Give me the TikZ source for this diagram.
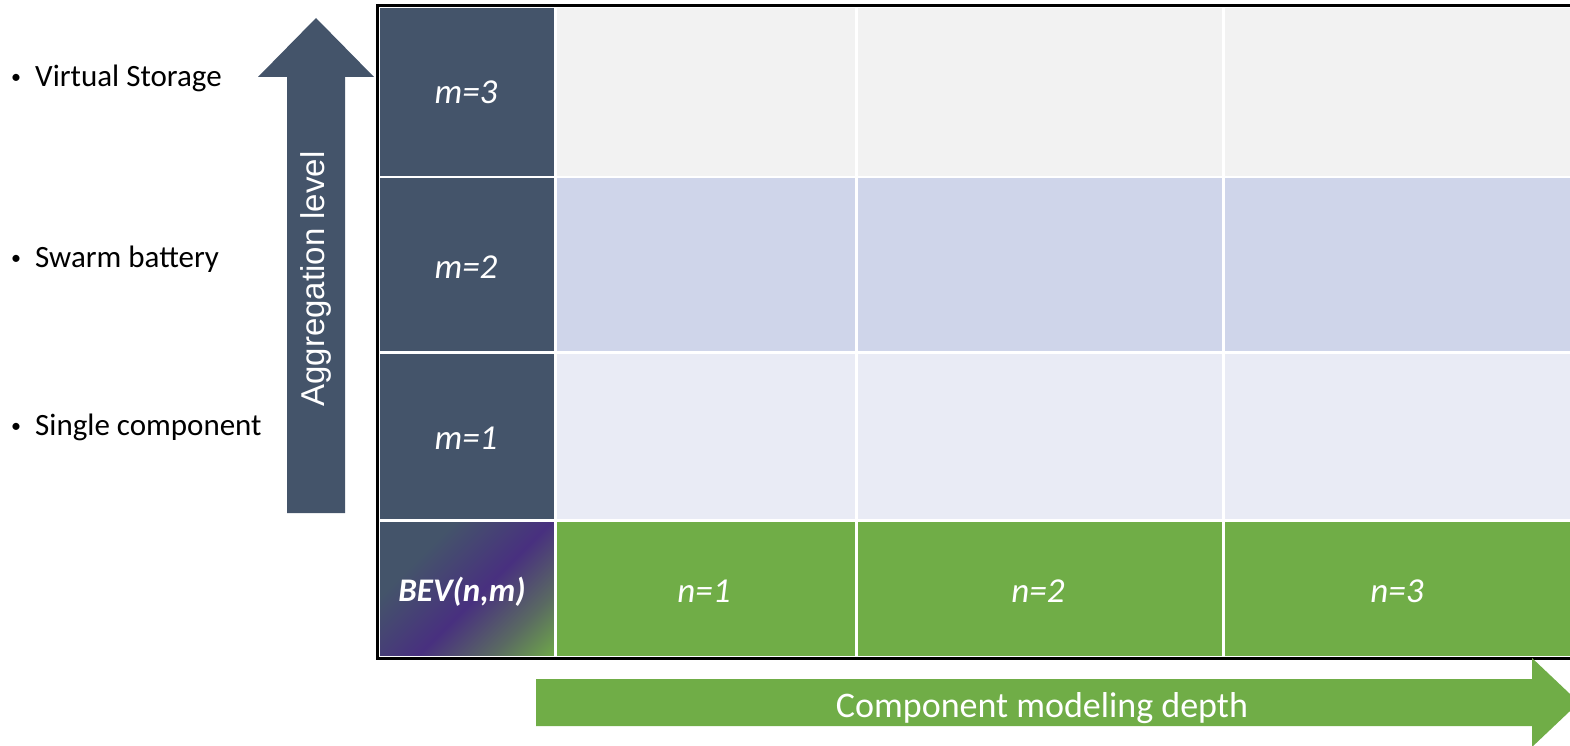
\documentclass[tikz,border=0pt]{standalone}
\usepackage{fontspec}
\setmainfont{Carlito}
\newfontfamily\arialfont{Liberation Sans}
\definecolor{slate}{HTML}{44546A}
\definecolor{leafgreen}{HTML}{70AD47}
\definecolor{rowthree}{HTML}{F2F2F2}
\definecolor{rowtwo}{HTML}{CFD5EA}
\definecolor{rowone}{HTML}{E9EBF5}
\definecolor{bevpurple}{HTML}{48307F}
\definecolor{bevmix}{HTML}{5A6A62}
\pgfdeclarehorizontalshading{bevshade}{100bp}{color(0bp)=(slate); color(32bp)=(slate); color(54bp)=(bevpurple); color(71bp)=(bevmix); color(86bp)=(leafgreen); color(100bp)=(leafgreen)}
\tikzset{
  cell/.style={rectangle, draw=white, line width=2.5pt, inner sep=0pt, anchor=north west},
  celltext/.style={anchor=base, text=white, inner sep=0pt, font=\fontsize{35}{40}\selectfont\itshape},
  sidelabel/.style={anchor=base west, inner sep=0pt, font=\fontsize{31}{36}\selectfont},
  frame/.style={line width=3pt, black},
}
\newcommand{\bulleted}[1]{\makebox[0pt][r]{\raisebox{3pt}{\fontsize{20}{22}\selectfont\textbullet}\hspace{14pt}}#1}
\begin{document}
\begin{tikzpicture}[x=1pt, y=-1pt]
\useasboundingbox (0,0) rectangle (1570,746);

% table cells: first column
\node[cell, fill=slate, minimum width=177pt, minimum height=170pt] (m3) at (377,6) {};
\node[cell, fill=slate, minimum width=177pt, minimum height=175pt] (m2) at (377,176) {};
\node[cell, fill=slate, minimum width=177pt, minimum height=168pt] (m1) at (377,351) {};
\node[cell, shading=bevshade, shading angle=-45, minimum width=177pt, minimum height=137pt] (bev) at (377,519) {};

% row m=3
\node[cell, fill=rowthree, minimum width=301pt, minimum height=170pt] (a3) at (554,6) {};
\node[cell, fill=rowthree, minimum width=367pt, minimum height=170pt] (b3) at (855,6) {};
\node[cell, fill=rowthree, minimum width=360pt, minimum height=170pt] (c3) at (1222,6) {};
% row m=2
\node[cell, fill=rowtwo, minimum width=301pt, minimum height=175pt] (a2) at (554,176) {};
\node[cell, fill=rowtwo, minimum width=367pt, minimum height=175pt] (b2) at (855,176) {};
\node[cell, fill=rowtwo, minimum width=360pt, minimum height=175pt] (c2) at (1222,176) {};
% row m=1
\node[cell, fill=rowone, minimum width=301pt, minimum height=168pt] (a1) at (554,351) {};
\node[cell, fill=rowone, minimum width=367pt, minimum height=168pt] (b1) at (855,351) {};
\node[cell, fill=rowone, minimum width=360pt, minimum height=168pt] (c1) at (1222,351) {};
% row n
\node[cell, fill=leafgreen, minimum width=301pt, minimum height=137pt] (n1) at (554,519) {};
\node[cell, fill=leafgreen, minimum width=367pt, minimum height=137pt] (n2) at (855,519) {};
\node[cell, fill=leafgreen, minimum width=360pt, minimum height=137pt] (n3) at (1222,519) {};

% cell labels
\node[celltext] (t3) at (466,104) {m=3};
\node[celltext] (t2) at (466,278) {m=2};
\node[celltext] (t1) at (466,449) {m=1};
\node[celltext, font=\fontsize{33}{37}\selectfont\bfseries\itshape] (tb) at (462,601) {BEV(n,m)};
\node[celltext] (tn1) at (704,602) {n=1};
\node[celltext] (tn2) at (1038,602) {n=2};
\node[celltext] (tn3) at (1397,602) {n=3};

% outer frame
\draw[frame] (c3.north east) -- (m3.north west) -- (bev.south west) -- (n3.south east);

% aggregation arrow
\fill[slate] (287,513) -- (287,77) -- (258,77) -- (316,18) -- (374,77) -- (345,77) -- (345,513) -- cycle;
\node[anchor=mid, rotate=90, inner sep=0pt, text=white, font=\arialfont\fontsize{33}{38}\selectfont] (agg) at (322,279) {Aggregation level};

% modeling depth arrow
\fill[leafgreen] (536,679) -- (1532,679) -- (1532,658) -- (1579,702.5) -- (1532,747) -- (1532,726) -- (536,726) -- cycle;
\node[anchor=base, inner sep=0pt, text=white, font=\fontsize{36}{40}\selectfont] (depth) at (1042,717) {Component modeling depth};

% level names
\node[sidelabel] (vs) at (35,87) {\bulleted{Virtual Storage}};
\node[sidelabel] (sb) at (35,267) {\bulleted{Swarm battery}};
\node[sidelabel] (sc) at (35,435) {\bulleted{Single component}};
\end{tikzpicture}
\end{document}
